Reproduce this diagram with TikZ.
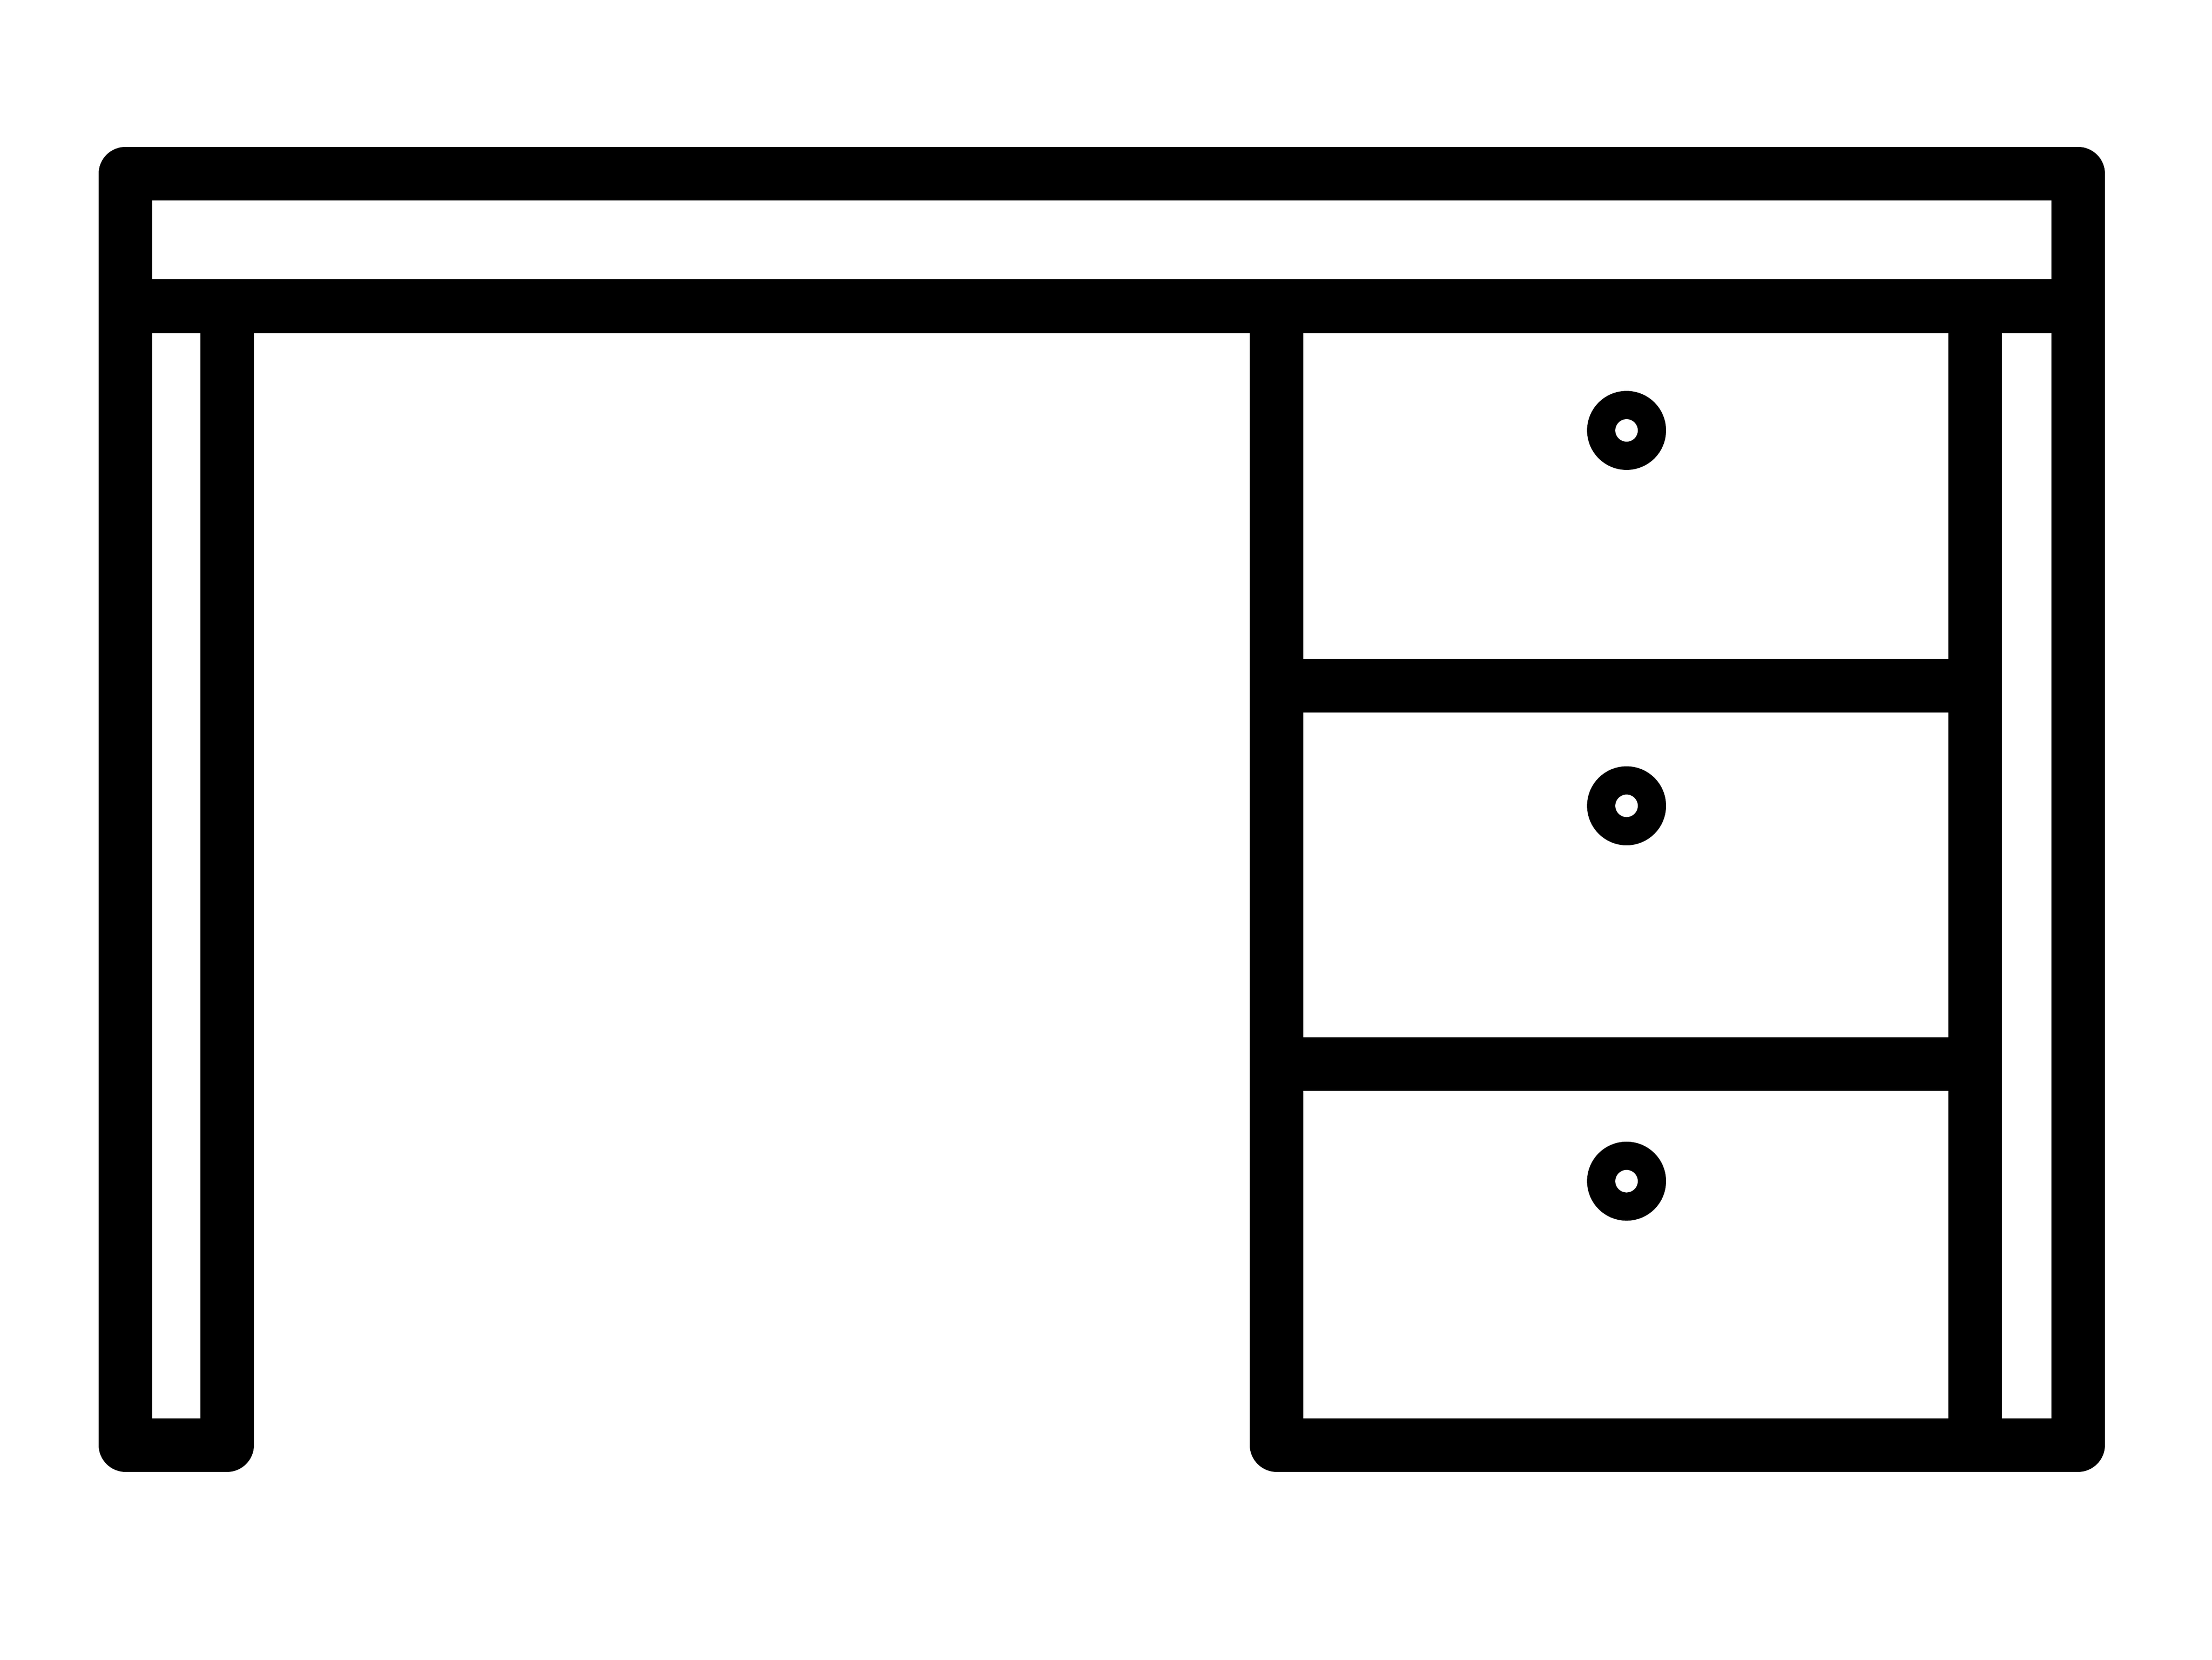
\documentclass[tikz,border=0pt]{standalone}
\tikzset{desk/.style={line width=3.8mm,line join=round,line cap=round,black},knob/.style={line width=2mm,black}}
\begin{document}
\begin{tikzpicture}[x=0.1mm,y=-0.1mm]
\useasboundingbox[fill=white] (0,0) rectangle (1568,1176);
\draw[desk] (89,217) -- (89,123) -- (1473,123) -- (1473,217);
\draw[desk] (89,217) -- (1473,217);
\draw[desk] (89,217) -- (89,1024) -- (161,1024) -- (161,217);
\draw[desk] (1400,217) -- (1400,1024) -- (1473,1024) -- (1473,217);
\draw[desk] (905,217) -- (905,1024) -- (1400,1024);
\draw[desk] (905,486) -- (1400,486);
\draw[desk] (905,754) -- (1400,754);
\draw[knob] (1153,305) circle (18);
\draw[knob] (1153,571) circle (18);
\draw[knob] (1153,837) circle (18);
\end{tikzpicture}
\end{document}
